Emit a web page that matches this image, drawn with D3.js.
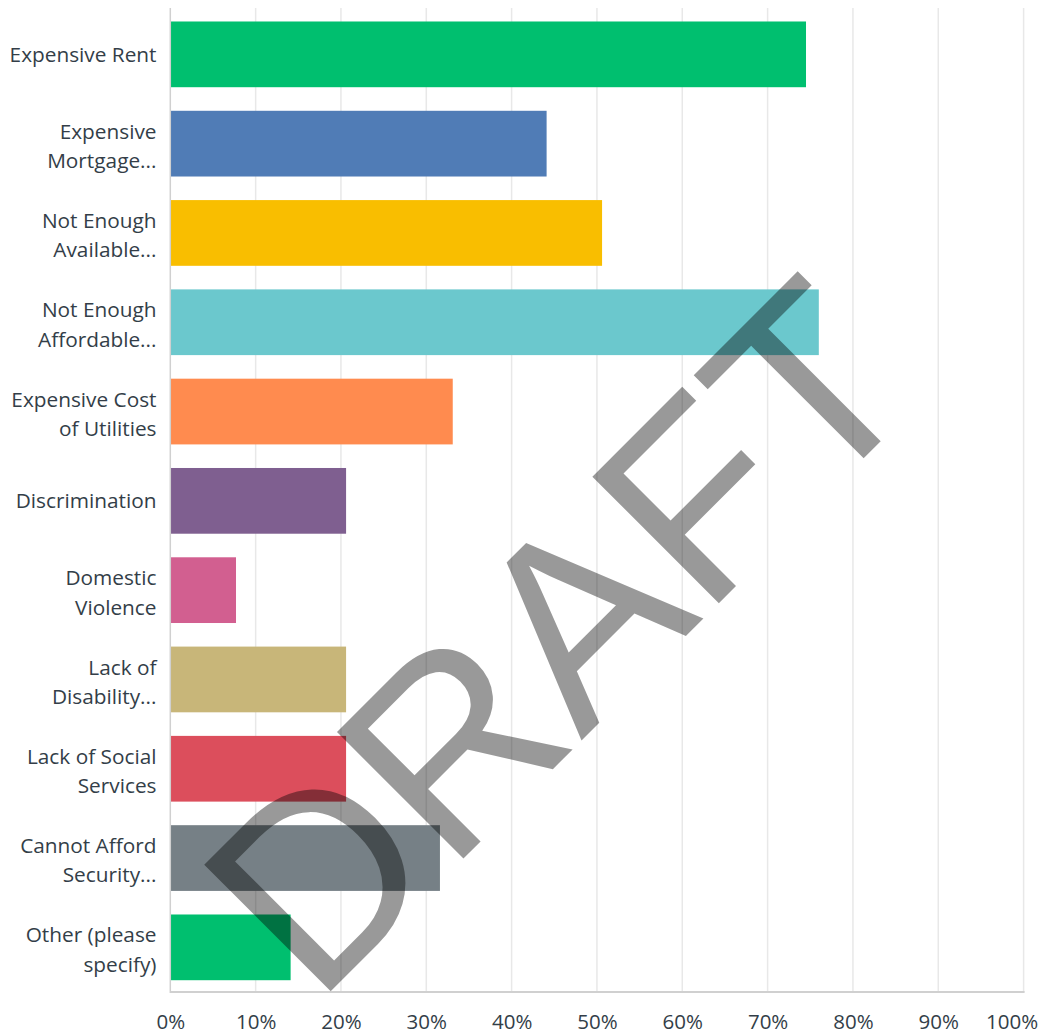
<!DOCTYPE html>
<html><head><meta charset="utf-8">
<script src="https://cdn.jsdelivr.net/npm/d3@7"></script>
<style>
html,body{margin:0;padding:0;background:#fff;}
</style></head>
<body><svg id="chart" width="1044" height="1034"></svg>
<script>
const categories = [
  ["Expensive Rent"],
  ["Expensive", "Mortgage..."],
  ["Not Enough", "Available..."],
  ["Not Enough", "Affordable..."],
  ["Expensive Cost", "of Utilities"],
  ["Discrimination"],
  ["Domestic", "Violence"],
  ["Lack of", "Disability..."],
  ["Lack of Social", "Services"],
  ["Cannot Afford", "Security..."],
  ["Other (please", "specify)"]
];
const values = [74.5, 44.1, 50.6, 76.0, 33.1, 20.6, 7.7, 20.6, 20.6, 31.6, 14.1];
const colors = ["#00bf6f","#507cb6","#f9be00","#6bc8cd","#ff8b4f","#7f5f90","#d25f90","#c8b679","#dc4e5c","#768086","#00bf6f"];
const tickValues = [0,10,20,30,40,50,60,70,80,90,100];
const tickLabels = ["0%","10%","20%","30%","40%","50%","60%","70%","80%","90%","100%"];
const watermark = "DRAFT";

(function(){
const svg = d3.select("#chart");
const labelFont = "'Open Sans',sans-serif";
const mLeft = 170.3, mRight = 1023.6, mTop = 9.7, mBottom = 992;
const x = d3.scaleLinear().domain([0,100]).range([mLeft,mRight]);
const y = d3.scaleBand().domain(d3.range(categories.length)).range([mTop,mBottom]).paddingInner(0.264).paddingOuter(0.132);

// gridlines
svg.append("g").selectAll("line").data(tickValues.slice(1)).join("line")
  .attr("x1",d=>x(d)).attr("x2",d=>x(d)).attr("y1",8).attr("y2",mBottom)
  .attr("stroke","#e8e8e8").attr("stroke-width",1.5);

// bars
svg.append("g").selectAll("rect").data(values).join("rect")
  .attr("x",x(0)).attr("y",(d,i)=>y(i)).attr("width",d=>x(d)-x(0)).attr("height",y.bandwidth())
  .attr("fill",(d,i)=>colors[i]);

// axis lines
svg.append("line").attr("x1",x(0)).attr("x2",x(0)).attr("y1",8).attr("y2",mBottom+1).attr("stroke","#d0d0d0").attr("stroke-width",1.5);
svg.append("line").attr("x1",x(0)).attr("x2",mRight+1).attr("y1",mBottom).attr("y2",mBottom).attr("stroke","#d0d0d0").attr("stroke-width",2);

// x tick labels
const xAxis = d3.axisBottom(x).tickValues(tickValues).tickFormat((d,i)=>tickLabels[i]).tickSize(0).tickPadding(0);
const gx = svg.append("g").attr("transform",`translate(0,${mBottom})`).call(xAxis);
gx.select(".domain").remove();
gx.selectAll("text").attr("dy",null).attr("y",37).attr("fill","#333e48")
  .style("font-size","20.5px").style("font-family",labelFont);
// keep last label inside the frame
gx.selectAll(".tick:last-of-type text").attr("text-anchor","end").attr("x",14);

// y labels
const lh = 29.3;
const gy = svg.append("g");
categories.forEach((lines,i)=>{
  const cy = y(i)+y.bandwidth()/2 + (lines.length>1?2.3:0);
  const t = gy.append("text").attr("text-anchor","end").attr("fill","#333e48")
    .style("font-size","20.8px").style("font-family",labelFont);
  lines.forEach((ln,j)=>{
    t.append("tspan").attr("x",156.5).attr("y",cy + (j-(lines.length-1)/2)*lh).attr("dy","0.36em").text(ln);
  });
});

// watermark
svg.append("text").attr("transform","translate(622,700) rotate(-45)")
  .attr("text-anchor","middle")
  .style("font-family","'Liberation Sans',Arial,sans-serif")
  .style("font-size","260px").attr("fill","#000").attr("fill-opacity",0.4).text(watermark);
})();
</script></body></html>
